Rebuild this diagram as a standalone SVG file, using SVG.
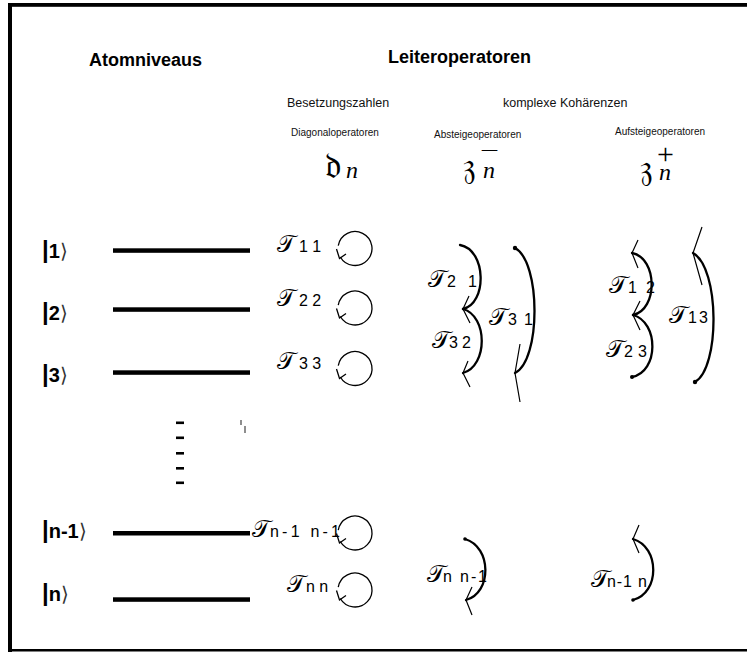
<svg xmlns="http://www.w3.org/2000/svg" width="747" height="652" viewBox="0 0 747 652">
<style>
.h{font-family:"Liberation Sans",Arial,sans-serif;font-weight:bold;font-size:18px;fill:#000}
.s{font-family:"Liberation Sans",Arial,sans-serif;font-size:12.5px;fill:#111}
.xs{font-family:"Liberation Sans",Arial,sans-serif;font-size:10px;fill:#111}
.fr{font-family:"DejaVu Serif","DejaVu Sans","Noto Sans",serif;font-size:36px;fill:#000}
.it{font-family:"Liberation Serif","DejaVu Serif",serif;font-style:italic;font-size:24px;fill:#000}
.sup{font-family:"Liberation Serif","DejaVu Serif",serif;fill:#000}
.lvb{font-family:"Liberation Sans",Arial,sans-serif;font-weight:bold;font-size:20px;fill:#000}
.bar{font-family:"Liberation Sans",Arial,sans-serif;font-weight:bold;font-size:24px;fill:#000}
.ang{font-family:"DejaVu Sans","Noto Sans",sans-serif;font-weight:200;font-size:20px;fill:#333}
.T{font-family:"DejaVu Serif","DejaVu Sans","Noto Sans",serif;font-size:24px;fill:#000}
.sub{font-family:"Liberation Sans",Arial,sans-serif;font-size:16px;fill:#000}
.lvl{fill:#000}
.arc{fill:none;stroke:#000;stroke-width:2.3;stroke-linecap:round}
.barb{fill:none;stroke:#000;stroke-width:1.2}
.loop{fill:none;stroke:#000;stroke-width:1.3}
</style>
<defs>
<g id="loop">
<path class="loop" d="M338.26,245.55 A17,17 0 1 1 340.28,257"/>
<path class="loop" d="M336.5,249 L339.5,258.5 L346,254"/>
</g>
</defs>

<g id="frame">
<rect x="8" y="3" width="739" height="3.8" fill="#000"/>
<rect x="8" y="3" width="4" height="649" fill="#000"/>
<rect x="8" y="649" width="739" height="2.5" fill="#000"/>
</g>

<g id="headers">
<text class="h" x="89" y="66">Atomniveaus</text>
<text class="h" x="388" y="63">Leiteroperatoren</text>
<text class="s" x="287" y="106.5">Besetzungszahlen</text>
<text class="s" x="503" y="106.5">komplexe Kohärenzen</text>
<text class="xs" x="291" y="135.5">Diagonaloperatoren</text>
<text class="xs" x="434" y="137.5">Absteigeoperatoren</text>
<text class="xs" x="615" y="134.5">Aufsteigeoperatoren</text>
</g>

<g id="symbols">
<text class="fr" x="325" y="178">𝔡</text><text class="it" x="346" y="178">n</text>
<text class="fr" x="463" y="178">𝔷</text><text class="it" x="483" y="178">n</text><text class="sup" x="480" y="157" font-size="20" textLength="19" lengthAdjust="spacingAndGlyphs">−</text>
<text class="fr" x="640" y="180">𝔷</text><text class="it" x="659" y="180">n</text><text class="sup" x="657" y="164" font-size="30">+</text>
</g>

<g id="level-1">
<text x="42" y="258"><tspan class="bar">|</tspan><tspan class="lvb">1</tspan><tspan class="ang">⟩</tspan></text>
<rect class="lvl" x="113" y="248.3" width="137" height="4.5"/>
</g>
<g id="level-2">
<text x="42" y="320"><tspan class="bar">|</tspan><tspan class="lvb">2</tspan><tspan class="ang">⟩</tspan></text>
<rect class="lvl" x="113" y="307.3" width="137" height="4.5"/>
</g>
<g id="level-3">
<text x="42" y="382"><tspan class="bar">|</tspan><tspan class="lvb">3</tspan><tspan class="ang">⟩</tspan></text>
<rect class="lvl" x="113" y="370.3" width="137" height="4.5"/>
</g>
<g id="level-dots">
<rect x="176" y="421.5" width="8" height="2.6" fill="#000"/>
<rect x="176" y="436.5" width="8" height="2.6" fill="#000"/>
<rect x="176" y="452" width="8" height="2.6" fill="#000"/>
<rect x="176" y="467" width="8" height="2.6" fill="#000"/>
<rect x="176" y="481.5" width="8" height="2.6" fill="#000"/>
<path d="M241,420 V425 M245,426 V433" stroke="#444" stroke-width="1.2" fill="none"/>
</g>
<g id="level-n-1">
<text x="42" y="538"><tspan class="bar">|</tspan><tspan class="lvb">n-1</tspan><tspan class="ang">⟩</tspan></text>
<rect class="lvl" x="113" y="531" width="137" height="4.5"/>
</g>
<g id="level-n">
<text x="42" y="601"><tspan class="bar">|</tspan><tspan class="lvb">n</tspan><tspan class="ang">⟩</tspan></text>
<rect class="lvl" x="113" y="597.3" width="137" height="4.5"/>
</g>

<g id="diag-11"><text class="T" x="277" y="252">𝒯</text><text class="sub" x="299" y="252">1 1</text><use href="#loop"/></g>
<g id="diag-22"><text class="T" x="277" y="306">𝒯</text><text class="sub" x="299" y="306">2 2</text><use href="#loop" transform="translate(0,59.5)"/></g>
<g id="diag-33"><text class="T" x="277" y="369">𝒯</text><text class="sub" x="299" y="369">3 3</text><use href="#loop" transform="translate(0,120)"/></g>
<g id="diag-n1"><text class="T" x="252" y="537">𝒯</text><text class="sub" x="270" y="537" textLength="70">n-1 n-1</text><use href="#loop" transform="translate(0,284.5)"/></g>
<g id="diag-nn"><text class="T" x="287" y="592">𝒯</text><text class="sub" x="306" y="592">n n</text><use href="#loop" transform="translate(0,341.5)"/></g>

<g id="labels-coherences">
<text class="T" x="428" y="287">𝒯</text><text class="sub" x="447" y="287" textLength="30">2 1</text>
<text class="T" x="432" y="348">𝒯</text><text class="sub" x="449" y="348" textLength="22">3 2</text>
<text class="T" x="489" y="325">𝒯</text><text class="sub" x="508" y="325" textLength="25">3 1</text>
<text class="T" x="609" y="293">𝒯</text><text class="sub" x="628" y="293" textLength="27">1 2</text>
<text class="T" x="606" y="357">𝒯</text><text class="sub" x="624" y="357" textLength="23">2 3</text>
<text class="T" x="669" y="323">𝒯</text><text class="sub" x="688" y="323" textLength="20">1 3</text>
<text class="T" x="427" y="582">𝒯</text><text class="sub" x="443" y="582" textLength="44">n n-1</text>
<text class="T" x="591" y="587">𝒯</text><text class="sub" x="607" y="587" textLength="40">n-1 n</text>
</g>

<g id="connectors">
<path class="arc" d="M460,245 C487,250 487,304 463,309"/>
<path class="barb" d="M469,296 L463,309 L470,323"/>
<path class="arc" d="M463,309 C488,316 488,366 463,373"/>
<path class="barb" d="M468,361 L463,373 L470,387"/>
<path class="arc" d="M515,248 C541,262 541,360 515,373"/>
<circle cx="515" cy="248" r="2.2"/>
<path class="barb" d="M520,344 L515,373 L520,402"/>
<path class="arc" d="M632,253 C658,258 658,310 633,315"/>
<path class="barb" d="M638,240 L632,253 L638,268"/>
<path class="arc" d="M633,315 C659,322 659,372 632,377"/>
<path class="barb" d="M640,301 L633,315 L640,330"/>
<circle cx="632" cy="377" r="2"/>
<path class="arc" d="M693,253 C720,268 720,368 695,382"/>
<path class="barb" d="M702,227 L693,253 L702,285"/>
<circle cx="695" cy="382" r="2.2"/>
<path class="arc" d="M465,539 C492,547 492,593 466,600"/>
<circle cx="465" cy="539" r="1.8"/>
<path class="barb" d="M472,587 L466,600 L472,615"/>
<path class="arc" d="M633,539 C660,547 660,593 633,600"/>
<path class="barb" d="M639,525 L633,539 L639,553"/>
<circle cx="633" cy="600" r="1.8"/>
</g>
</svg>
